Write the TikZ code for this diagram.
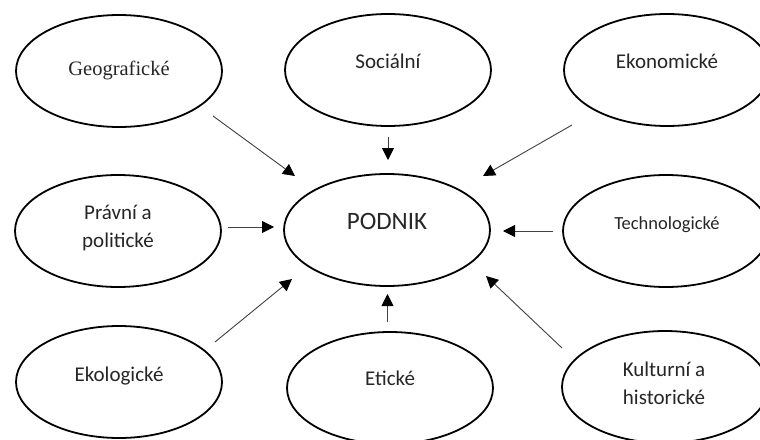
\documentclass[tikz,border=0pt]{standalone}
\usepackage{fontspec}
\setmainfont{Carlito}
\newfontfamily\geofont{Liberation Serif}
\usetikzlibrary{shapes.geometric,arrows.meta}
\begin{document}
\begin{tikzpicture}[x=1pt,y=-1pt,
  oval/.style={ellipse, draw=black, line width=1.8pt, minimum width=206pt, minimum height=112pt, inner sep=0pt},
  lbl/.style={font=\fontsize{21}{28}\selectfont, text=black!85, inner sep=0pt, anchor=base},
  lbltwo/.style={font=\fontsize{21}{28}\selectfont, text=black!85, inner sep=0pt, anchor=center, align=center},
  arr/.style={draw=black!75, line width=0.9pt, -{Triangle[length=12pt,width=12pt,color=black]}}]
\clip (0,0) rectangle (760,439);
\fill[white] (0,0) rectangle (760,439);
% ellipses
\node[oval] (geo)  at (119,71)  {};
\node[oval] (soc)  at (388,70)  {};
\node[oval] (eko)  at (667,70)  {};
\node[oval] (pra)  at (118,231) {};
\node[oval] (pod)  at (387,230) {};
\node[oval] (tech) at (666,231) {};
\node[oval] (ekol) at (119,382) {};
\node[oval] (etic) at (390,388) {};
\node[oval] (kult) at (665,387) {};
% texts
\node[lbl, font=\geofont\fontsize{20.5}{24}\selectfont] (geoT) at (119,75) {Geografické};
\node[lbl] (socT) at (388,68) {Sociální};
\node[lbl] (ekoT) at (667,68) {Ekonomické};
\node[lbltwo] (praT) at (118,228) {Právní a\\politické};
\node[lbl, font=\fontsize{25}{30}\selectfont] (podT) at (387,229) {PODNIK};
\node[lbl, font=\fontsize{18.5}{22}\selectfont] (techT) at (667,229) {Technologické};
\node[lbl] (ekolT) at (119,381.7) {Ekologické};
\node[lbl] (eticT) at (390,385.7) {Etické};
\node[lbltwo] (kultT) at (664,383.3) {Kulturní a\\historické};
% arrow ends
\coordinate (geoO)  at (213,116);  \coordinate (podGeo)  at (295,176);
\coordinate (socO)  at (388,137);  \coordinate (podSoc)  at (388,160);
\coordinate (ekoO)  at (572,125);  \coordinate (podEko)  at (483,176);
\coordinate (praO)  at (228,227);  \coordinate (podPra)  at (274,227);
\coordinate (techO) at (553,231);  \coordinate (podTech) at (503,231);
\coordinate (ekolO) at (215,342);  \coordinate (podEkol) at (292,279);
\coordinate (eticO) at (387.5,322);\coordinate (podEtic) at (387.5,294);
\coordinate (kultO) at (562,348);  \coordinate (podKult) at (486,276);
\draw[arr] (geoO) -- (podGeo);
\draw[arr] (socO) -- (podSoc);
\draw[arr] (ekoO) -- (podEko);
\draw[arr] (praO) -- (podPra);
\draw[arr] (techO) -- (podTech);
\draw[arr] (ekolO) -- (podEkol);
\draw[arr] (eticO) -- (podEtic);
\draw[arr] (kultO) -- (podKult);
\end{tikzpicture}
\end{document}
